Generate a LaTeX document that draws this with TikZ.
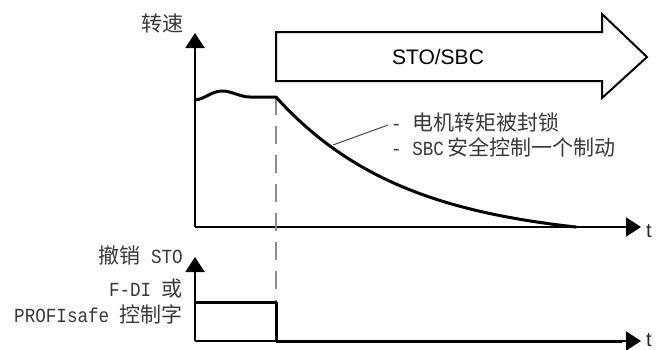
\documentclass[tikz,border=0pt]{standalone}
\usepackage{fontspec}
\setmainfont{Liberation Sans}
\newfontfamily\cjk{Noto Sans CJK SC}
\newfontfamily\mono[FakeStretch=0.88]{Liberation Mono}
\usetikzlibrary{arrows.meta}
\newcommand{\cjkf}{\cjk\fontsize{21}{24}\selectfont}
\newcommand{\monof}{\mono\fontsize{20}{22}\selectfont}
\begin{document}
\begin{tikzpicture}[x=1pt,y=-1pt,
  axisline/.style={line width=2pt, draw=black, -{Triangle[width=19pt,length=15pt]}},
  sigline/.style={line width=3pt, draw=black, line join=round, line cap=round},
  txt/.style={inner sep=0pt, text=black!78},
  tlabel/.style={inner sep=0pt, anchor=base west, font=\fontsize{20}{24}\selectfont, text=black!85},
  dashline/.style={line width=1.6pt, draw=black!45, dash pattern=on 18pt off 11pt},
  leader/.style={line width=1pt, draw=black!70},
  bigarrow/.style={line width=2pt, draw=black, line join=miter}
]
\useasboundingbox (0,0) rectangle (656,349);

% coordinates
\coordinate (O1) at (195,227);
\coordinate (Y1) at (195,33);
\coordinate (X1) at (641,227);
\coordinate (O2) at (195,341);
\coordinate (Y2) at (195,257);
\coordinate (X2) at (641,341);
\coordinate (W0) at (195,100);
\coordinate (S0) at (276,97);
\coordinate (Cend) at (576,227);
\coordinate (H0) at (195,302);
\coordinate (H1) at (276,302);
\coordinate (H2) at (276,341);
\coordinate (L0) at (333,145);
\coordinate (L1) at (388,125);

% axes
\draw[axisline] (O1) -- (Y1);
\draw[axisline] (O1) -- (X1);
\draw[axisline] (O2) -- (Y2);
\draw[axisline] (O2) -- (X2);

% big arrow STO/SBC
\draw[bigarrow] (276,32) -- (602,32) -- (602,14) -- (647,57) -- (602,98) -- (602,81) -- (276,81) -- cycle;
\node[inner sep=0pt, font=\fontsize{21}{24}\selectfont] (sto) at (438,57) {STO/SBC};

% dashed line
\draw[dashline] (S0) -- (H1);

% speed curve
\draw[sigline] (W0) .. controls (205,99) and (212,91) .. (222,91)
   .. controls (232,91) and (240,97) .. (250,97)
   .. controls (260,97) and (268,97) .. (S0);
\draw[sigline, domain=276:576, samples=90, smooth]
   plot (\x, {227-130*(exp(-(\x-276)/130)-0.0996)/0.9004});
\draw[line width=2.4pt] (Cend) -- (620,227);

% leader line
\draw[leader] (L0) -- (L1);

% lower signal
\draw[sigline, line cap=butt] (H0) -- (H1) -- (H2) -- (622,341);

% labels
\node[txt, anchor=base, font=\cjkf] (speed) at (162,31) {转速};
\node[txt, anchor=base west] (n1) at (391,130) {\monof -\hspace{10.5pt}{\cjkf 电机转矩被封锁}};
\node[txt, anchor=base west] (n2) at (391,155) {\monof -\hspace{10.5pt}SBC\hspace{4pt}{\cjkf 安全控制一个制动}};
\node[txt, anchor=base east] (l1) at (183,263) {{\cjkf 撤销}\hspace{10.5pt}\monof STO};
\node[txt, anchor=base east] (l2) at (183,296) {\monof F-DI\hspace{10.5pt}{\cjkf 或}};
\node[txt, anchor=base east] (l3) at (183,322) {\monof PROFIsafe\hspace{10.5pt}{\cjkf 控制字}};
\node[tlabel] (t1) at (646,237) {t};
\node[tlabel] (t2) at (646,346) {t};
\end{tikzpicture}
\end{document}
